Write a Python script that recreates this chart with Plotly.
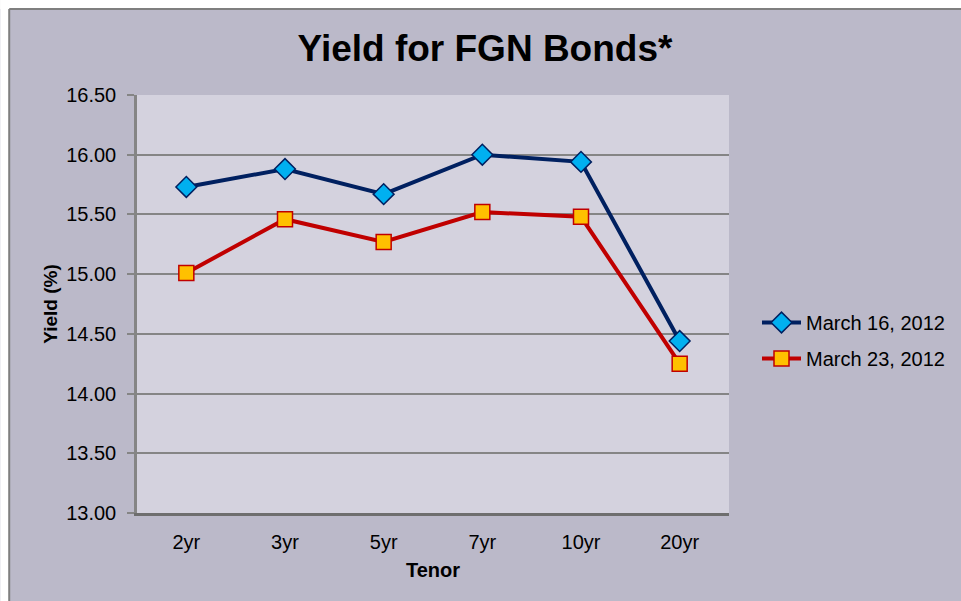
import plotly.graph_objects as go

tenors = ["2yr", "3yr", "5yr", "7yr", "10yr", "20yr"]
mar16 = [15.73, 15.88, 15.67, 16.00, 15.94, 14.44]
mar23 = [15.01, 15.46, 15.27, 15.52, 15.48, 14.25]
yticks = [13.0, 13.5, 14.0, 14.5, 15.0, 15.5, 16.0, 16.5]

W, H = 961, 601
L, R, T, B = 137, 730, 95, 513


def px_x(p):  # window pixel -> paper x
    return (p - L) / (R - L)


def px_y(p):  # window pixel -> paper y
    return (B - p) / (B - T)


font = "Liberation Sans, Arial, sans-serif"

fig = go.Figure()
fig.add_trace(go.Scatter(
    x=tenors, y=mar16, name="March 16, 2012", mode="lines+markers",
    line=dict(color="#002060", width=4),
    marker=dict(symbol="diamond", size=16, color="#00B0F0",
                line=dict(color="#002060", width=1.5)),
    legendgroup="a"))
fig.add_trace(go.Scatter(
    x=tenors, y=mar23, name="March 23, 2012", mode="lines+markers",
    line=dict(color="#C00000", width=4),
    marker=dict(symbol="square", size=15, color="#FFC000",
                line=dict(color="#C00000", width=1.5)),
    legendgroup="b"))

shapes = [
    dict(type="rect", xref="paper", yref="paper", x0=px_x(0), x1=px_x(9),
         y0=px_y(620), y1=px_y(0), fillcolor="white", line=dict(width=0), layer="above"),
    dict(type="rect", xref="paper", yref="paper", x0=px_x(0), x1=px_x(980),
         y0=px_y(9), y1=px_y(0), fillcolor="white", line=dict(width=0), layer="above"),
    dict(type="line", xref="paper", yref="paper", x0=px_x(9), x1=px_x(9),
         y0=px_y(620), y1=px_y(9), line=dict(color="#7F7F7F", width=2)),
    dict(type="line", xref="paper", yref="paper", x0=px_x(9), x1=px_x(980),
         y0=px_y(9), y1=px_y(9), line=dict(color="#7F7F7F", width=2)),
]

fig.update_layout(
    width=W, height=H,
    margin=dict(l=L, r=W - R, t=T, b=H - B),
    paper_bgcolor="#BBB9C9",
    plot_bgcolor="#D4D2DE",
    font=dict(family=font, size=20, color="black"),
    title=dict(text="<b>Yield for FGN Bonds*</b>", xref="container", x=485 / W,
               xanchor="center", yref="container", y=1 - 48 / H, yanchor="middle",
               font=dict(size=37, color="black")),
    xaxis=dict(
        type="category", range=[-0.5, 5.5], showgrid=False,
        showline=True, linecolor="#6E6E6E", linewidth=2.5,
        ticks="", ticklabelstandoff=9, tickfont=dict(size=20),
        title=dict(text="<b>Tenor</b>", font=dict(size=20), standoff=12),
    ),
    yaxis=dict(
        range=[13.0, 16.5], tickvals=yticks, tickformat=".2f",
        showgrid=True, gridcolor="#858585", gridwidth=2,
        showline=True, linecolor="#858585", linewidth=2.5,
        ticks="outside", ticklen=7, tickcolor="#858585", tickwidth=1.5,
        ticklabelstandoff=7,
        tickfont=dict(size=20), zeroline=False,
        title=dict(text="<b>Yield (%)</b>", font=dict(size=19), standoff=4),
    ),
    legend=dict(x=px_x(757), xanchor="left", y=px_y(303), yanchor="top",
                bgcolor="rgba(0,0,0,0)", font=dict(size=20),
                itemwidth=39, tracegroupgap=7),
    shapes=shapes,
)

fig.write_html(
    "out.html",
    config={"displayModeBar": False},
    post_script="document.body.style.margin='0';document.body.style.overflow='hidden';",
)
